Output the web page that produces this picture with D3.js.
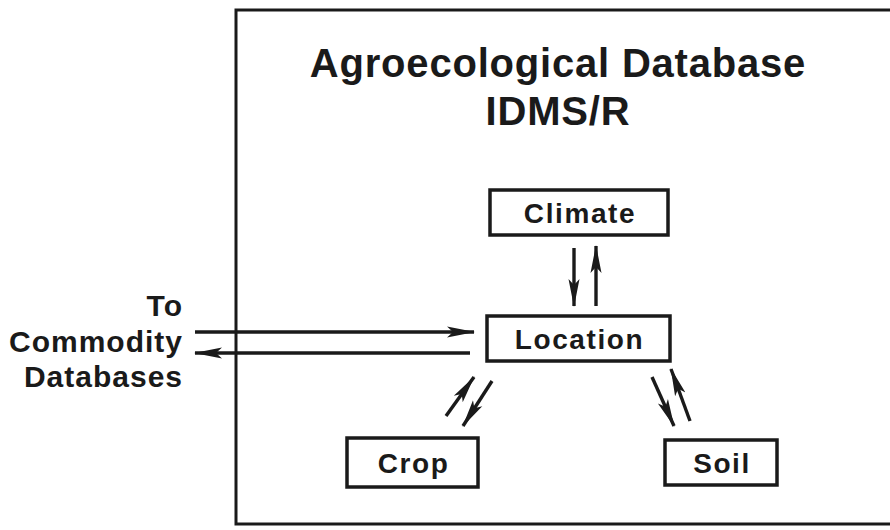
<!DOCTYPE html>
<html>
<head>
<meta charset="utf-8">
<script src="https://cdn.jsdelivr.net/npm/d3@7"></script>
<style>
  body { margin: 0; background: #fff; }
  text { font-family: "Liberation Sans", Arial, sans-serif; font-weight: bold; fill: #1a1a1a; }
</style>
</head>
<body>
<div id="chart"></div>
<script>
// diagram content
var titleLines = ["Agroecological Database", "IDMS/R"];
var sideLabel = ["To", "Commodity", "Databases"];
var nodeNames = ["Climate", "Location", "Crop", "Soil"];
// links: [from, to]
var links = [["Climate", "Location"], ["Location", "Climate"],
             ["Crop", "Location"], ["Location", "Crop"],
             ["Location", "Soil"], ["Soil", "Location"],
             ["External", "Location"], ["Location", "External"]];

var width = 890, height = 530;
var ink = "#1a1a1a";

// layout of boxes (x0, y0, x1, y1)
var boxes = {
  "Climate":  [490, 190, 668, 235],
  "Location": [487, 316, 670, 361],
  "Crop":     [347, 438, 478, 487],
  "Soil":     [665, 440, 777, 485]
};
// arrow endpoints for each link, in the same order as links
var arrowPaths = [
  [[574, 248], [574, 306]],
  [[596, 306], [596, 246]],
  [[446, 416], [474, 377]],
  [[492, 381], [463, 426]],
  [[652, 377], [674, 426]],
  [[690, 421], [671, 369]],
  [[195, 332], [474, 332]],
  [[470, 353], [195, 353]]
];

var svg = d3.select("#chart").append("svg")
  .attr("width", width).attr("height", height);

svg.append("defs").append("marker")
  .attr("id", "head")
  .attr("markerUnits", "userSpaceOnUse")
  .attr("viewBox", "0 -7 28 14")
  .attr("refX", 27).attr("refY", 0)
  .attr("markerWidth", 28).attr("markerHeight", 14)
  .attr("orient", "auto")
  .append("path")
  .attr("d", "M0,-5.5L28,0L0,5.5L6,0Z")
  .attr("fill", ink);

// outer frame, open on the right
svg.append("rect")
  .attr("x", 236).attr("y", 10)
  .attr("width", 700).attr("height", 514)
  .attr("fill", "none").attr("stroke", ink).attr("stroke-width", 3);

// title
svg.selectAll(".title").data(titleLines).enter().append("text")
  .attr("class", "title")
  .attr("x", 558)
  .attr("y", function(d, i) { return 77 + i * 48; })
  .attr("text-anchor", "middle")
  .style("font-size", "40px")
  .style("letter-spacing", "0.8px")
  .text(function(d) { return d; });

// side label
svg.selectAll(".side").data(sideLabel).enter().append("text")
  .attr("class", "side")
  .attr("x", 183)
  .attr("y", function(d, i) { return 316 + i * 35.5; })
  .attr("text-anchor", "end")
  .style("font-size", "30px")
  .style("letter-spacing", "1px")
  .text(function(d) { return d; });

// boxes
var node = svg.selectAll(".node").data(nodeNames).enter().append("g").attr("class", "node");
node.append("rect")
  .attr("x", function(d) { return boxes[d][0]; })
  .attr("y", function(d) { return boxes[d][1]; })
  .attr("width", function(d) { return boxes[d][2] - boxes[d][0]; })
  .attr("height", function(d) { return boxes[d][3] - boxes[d][1]; })
  .attr("fill", "#fff").attr("stroke", ink).attr("stroke-width", 3.5);
node.append("text")
  .attr("x", function(d) { return (boxes[d][0] + boxes[d][2]) / 2 + 1; })
  .attr("y", function(d) { return (boxes[d][1] + boxes[d][3]) / 2 + 10; })
  .attr("text-anchor", "middle")
  .style("font-size", "28px")
  .style("letter-spacing", "1.6px")
  .text(function(d) { return d; });

// arrows
var line = d3.line();
svg.selectAll(".arrow").data(links).enter().append("path")
  .attr("class", "arrow")
  .attr("d", function(d, i) { return line(arrowPaths[i]); })
  .attr("fill", "none").attr("stroke", ink).attr("stroke-width", 3.4)
  .attr("marker-end", "url(#head)");
</script>
</body>
</html>
